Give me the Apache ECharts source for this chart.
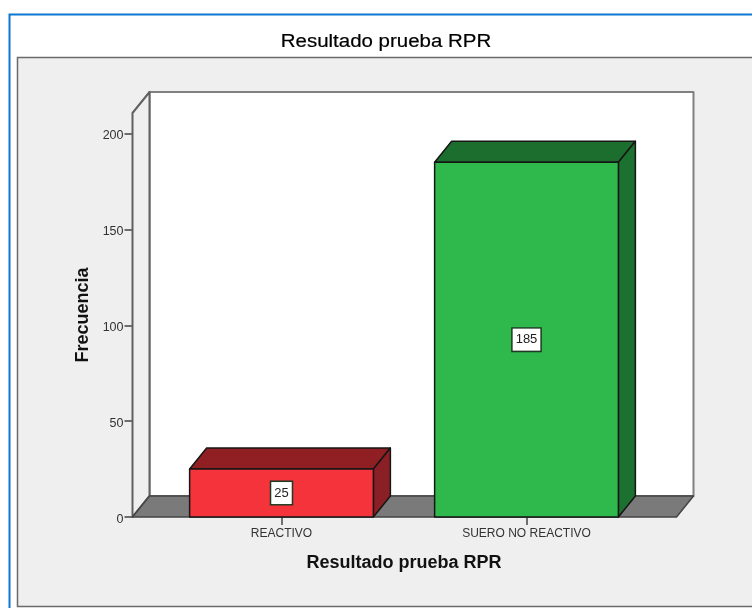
<!DOCTYPE html>
<html>
<head>
<meta charset="utf-8">
<title>Resultado prueba RPR</title>
<style>
  html, body { margin: 0; padding: 0; background: #fff; overflow: hidden; }
  #main { width: 752px; height: 608px; }
</style>
</head>
<body>
<div id="main"></div>
<script src="https://cdn.jsdelivr.net/npm/echarts@6/dist/echarts.min.js"></script>
<script>
var categories = ['REACTIVO', 'SUERO NO REACTIVO']
var frecuencia = [25, 185]
var yTicks = [0, 50, 100, 150, 200]
var barColors = [
  { front: '#f4333b', top: '#901f24', side: '#8a2025' },
  { front: '#2fb94c', top: '#1c6e2e', side: '#1c7030' }
]

var font = '"Liberation Sans", Arial, sans-serif'
// desplazamiento de la perspectiva 3D, en pixeles
var depthX = 17
var depthY = 21
var lineDark = '#161616'

function poly (points, fill, stroke, width) {
  return {
    type: 'polygon',
    shape: { points: points },
    style: { fill: fill, stroke: stroke, lineWidth: width || 1.5, lineJoin: 'round' }
  }
}

// paredes y piso del grafico
function renderWalls (params) {
  var g = params.coordSys
  var left = g.x - 26.5
  var right = g.x + g.width + 27.5
  var top = g.y
  var bottom = g.y + g.height
  return {
    type: 'group',
    children: [
      poly([[left + depthX, top - depthY], [right + depthX, top - depthY], [right + depthX, bottom - depthY], [left + depthX, bottom - depthY]], '#fff', '#808080', 2),
      poly([[left, bottom], [left + depthX, bottom - depthY], [left + depthX, top - depthY], [left, top]], '#efefef', '#606060', 2),
      poly([[left, bottom], [left + depthX, bottom - depthY], [right + depthX, bottom - depthY], [right, bottom]], '#7a7a7a', '#444', 1.5)
    ]
  }
}

function renderBar (params, api) {
  var i = api.value(0)
  var base = api.coord([i, 0])
  var head = api.coord([i, api.value(1)])
  var w = api.size([1, 0])[0] * 0.75
  var x0 = base[0] - w / 2
  var x1 = base[0] + w / 2
  var y0 = base[1]
  var y1 = head[1]
  var c = barColors[i]
  return {
    type: 'group',
    children: [
      poly([[x0, y1], [x0 + depthX, y1 - depthY], [x1 + depthX, y1 - depthY], [x1, y1]], c.top, lineDark),
      poly([[x1, y1], [x1 + depthX, y1 - depthY], [x1 + depthX, y0 - depthY], [x1, y0]], c.side, lineDark),
      poly([[x0, y1], [x1, y1], [x1, y0], [x0, y0]], c.front, lineDark),
      {
        type: 'text',
        style: {
          text: String(api.value(1)),
          x: base[0],
          y: (y0 + y1) / 2,
          align: 'center',
          verticalAlign: 'middle',
          font: '13px ' + font,
          fill: '#222',
          backgroundColor: '#fff',
          borderColor: '#1f3a24',
          borderWidth: 1.5,
          padding: [5, 3, 4, 3]
        }
      }
    ]
  }
}

var myChart = echarts.init(document.getElementById('main'))

var options = {
  animation: false,
  backgroundColor: '#fff',
  // marco de la ventana, panel gris y titulo
  graphic: [
    { type: 'rect', z: -10, shape: { x: 9.5, y: 14.5, width: 800, height: 700 }, style: { fill: '#fff', stroke: '#0a78d0', lineWidth: 2 } },
    { type: 'rect', z: -9, shape: { x: 17.5, y: 57.5, width: 800, height: 549 }, style: { fill: '#efefef', stroke: '#6a6a6a', lineWidth: 1.5 } },
    {
      type: 'text',
      z: 5,
      x: 386,
      y: 42,
      scaleX: 1.17,
      style: {
        text: 'Resultado prueba RPR',
        align: 'center',
        verticalAlign: 'middle',
        font: '17.5px ' + font,
        fill: '#000',
        stroke: '#000',
        lineWidth: 0.2
      }
    }
  ],
  grid: { left: 159, top: 113, width: 490, height: 404 },
  xAxis: {
    type: 'category',
    data: categories,
    name: 'Resultado prueba RPR',
    nameLocation: 'middle',
    nameGap: 37,
    nameTextStyle: { fontFamily: font, fontSize: 18, fontWeight: 'bold', color: '#111' },
    axisLine: { show: false },
    axisTick: { show: true, alignWithLabel: true, length: 8, lineStyle: { color: '#444', width: 1.5 } },
    axisLabel: { fontFamily: font, fontSize: 12, color: '#333', margin: 11 }
  },
  yAxis: {
    type: 'value',
    min: 0,
    max: 210.7,
    interval: 50,
    offset: 26.5,
    name: 'Frecuencia',
    nameLocation: 'middle',
    nameGap: 40,
    nameTextStyle: { fontFamily: font, fontSize: 18, fontWeight: 'bold', color: '#111' },
    splitLine: { show: false },
    axisLine: { show: false },
    axisTick: { show: true, length: 8, customValues: yTicks, lineStyle: { color: '#444', width: 1.5 } },
    axisLabel: { fontFamily: font, fontSize: 12.5, color: '#333', margin: 9, verticalAlign: 'top', lineHeight: 5, customValues: yTicks }
  },
  series: [
    {
      type: 'custom',
      z: 1,
      clip: false,
      silent: true,
      renderItem: renderWalls,
      encode: { x: 0, y: 1 },
      data: [[0, 0]]
    },
    {
      type: 'custom',
      z: 3,
      clip: false,
      renderItem: renderBar,
      encode: { x: 0, y: 1 },
      data: frecuencia.map(function (v, i) { return [i, v] })
    }
  ]
}

myChart.setOption(options)
</script>
</body>
</html>
